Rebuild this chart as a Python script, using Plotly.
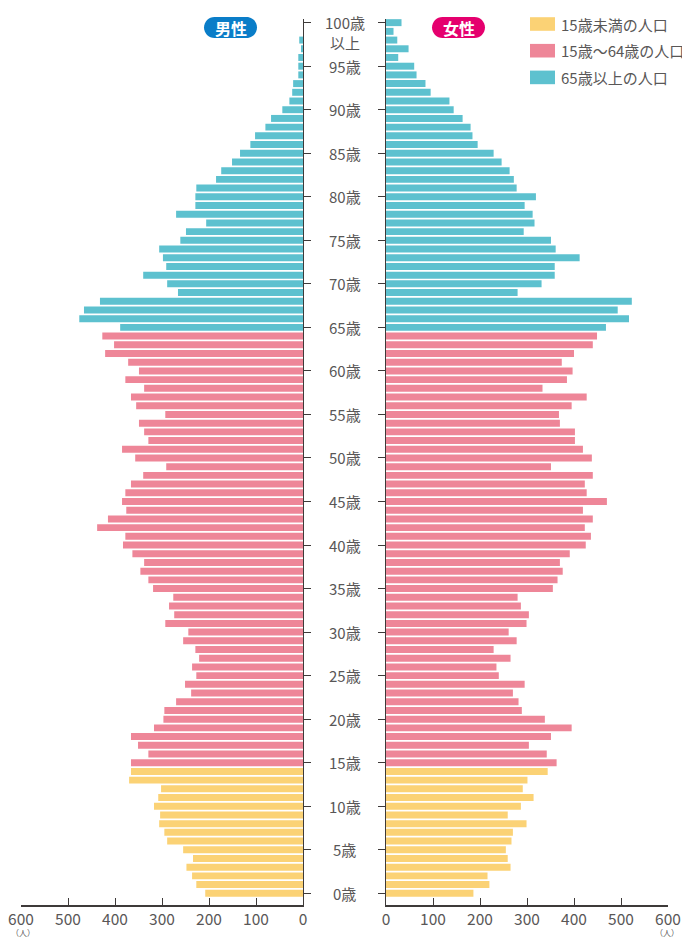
import plotly.graph_objects as go

# ---------------- data ----------------
ages = list(range(0, 101))
male = [208, 227, 236, 248, 234, 255, 289, 295, 306, 304,
        317, 308, 302, 370, 366, 366, 329, 351, 366, 317,
        297, 295, 270, 238, 251, 227, 236, 221, 229, 255,
        244, 293, 274, 285, 276, 319, 329, 346, 338, 363,
        383, 378, 438, 415, 376, 385, 378, 366, 340, 291,
        357, 385, 329, 338, 349, 293, 355, 366, 338, 378,
        349, 372, 421, 402, 427, 389, 476, 466, 432, 266,
        289, 340, 291, 298, 306, 261, 249, 206, 270, 229,
        229, 227, 185, 174, 151, 134, 112, 102, 80, 68,
        44, 29, 23, 21, 10, 10, 10, 4, 8, 0, 0]
female = [186, 220, 216, 265, 259, 255, 267, 270, 299, 259,
          287, 314, 291, 301, 344, 363, 342, 304, 351, 395,
          338, 289, 282, 270, 295, 240, 235, 265, 229, 278,
          261, 299, 304, 287, 280, 355, 365, 376, 370, 391,
          425, 436, 423, 440, 419, 470, 427, 423, 440, 351,
          438, 419, 402, 402, 370, 368, 395, 427, 333, 385,
          397, 374, 400, 440, 449, 468, 517, 493, 523, 280,
          331, 359, 359, 412, 361, 351, 293, 316, 312, 295,
          319, 278, 272, 263, 246, 229, 195, 184, 180, 163,
          144, 135, 95, 84, 65, 60, 26, 48, 24, 16, 33]
group_names = ["15歳未満の人口", "15歳～64歳の人口", "65歳以上の人口"]
group_ranges = [(0, 14), (15, 64), (65, 100)]
x_ticks = [0, 100, 200, 300, 400, 500, 600]
age_ticks = list(range(0, 101, 5))
age_labels = [f"{a}歳" for a in age_ticks]

# ---------------- style ----------------
colors = ["#FBD275", "#EE8698", "#5DC1CF"]
FONT = "Noto Sans CJK JP"
TXT = "#595757"
AX = "#3e3a39"
OFF = 8                      # default page (body) margin
W, H = 690 - OFF, 938 - OFF  # figure size so it fills the window
TOP_PX, BOT_PX = 19, 905     # plot area in window pixels
T = TOP_PX - OFF
B = H - (BOT_PX - OFF)
PH = H - T - B


def px(x):
    """window pixel x -> paper x"""
    return (x - OFF) / W


def py(y):
    """window pixel y -> paper y"""
    return (BOT_PX - y) / PH


def pill(x0, x1, y0, y1):
    r = (y1 - y0) / 2
    k = 0.5523 * r
    pts = []
    pts.append(f"M {px(x0 + r)},{py(y0)}")
    pts.append(f"L {px(x1 - r)},{py(y0)}")
    pts.append(f"C {px(x1 - r + k)},{py(y0)} {px(x1)},{py(y0 + r - k)} {px(x1)},{py(y0 + r)}")
    pts.append(f"C {px(x1)},{py(y0 + r + k)} {px(x1 - r + k)},{py(y1)} {px(x1 - r)},{py(y1)}")
    pts.append(f"L {px(x0 + r)},{py(y1)}")
    pts.append(f"C {px(x0 + r - k)},{py(y1)} {px(x0)},{py(y1 - r + k)} {px(x0)},{py(y1 - r)}")
    pts.append(f"C {px(x0)},{py(y1 - r - k)} {px(x0 + r - k)},{py(y0)} {px(x0 + r)},{py(y0)} Z")
    return " ".join(pts)


fig = go.Figure()
for gi, (lo, hi) in enumerate(group_ranges):
    ys = [a for a in ages if lo <= a <= hi]
    fig.add_trace(go.Bar(
        y=ys, x=[male[a] for a in ys], orientation="h",
        marker=dict(color=colors[gi], line=dict(width=0)),
        width=0.8, xaxis="x", yaxis="y", name=group_names[gi],
        showlegend=False, hoverinfo="x+y"))
    fig.add_trace(go.Bar(
        y=ys, x=[female[a] for a in ys], orientation="h",
        marker=dict(color=colors[gi], line=dict(width=0)),
        width=0.8, xaxis="x2", yaxis="y2", name=group_names[gi],
        showlegend=False, hoverinfo="x+y"))

yrange = [-1.344, 100.42]
common_x = dict(tickvals=x_ticks, ticks="inside", ticklen=7,
                tickcolor=AX, tickwidth=1.2, showline=True, linecolor=AX,
                linewidth=1.5, showgrid=False, zeroline=False, automargin=False,
                ticklabeloverflow="allow",
                tickfont=dict(family=FONT, size=15.5, color=TXT))
common_y = dict(range=yrange, tickvals=age_ticks, ticks="outside", ticklen=7,
                tickcolor=AX, tickwidth=1.2, showline=True, linecolor=AX,
                linewidth=1.2, showgrid=False, zeroline=False, automargin=False,
                showticklabels=False)

fig.update_layout(
    width=W, height=H,
    margin=dict(l=0, r=0, t=T, b=B, autoexpand=False),
    paper_bgcolor="white", plot_bgcolor="white",
    barmode="overlay",
    showlegend=False,
    xaxis=dict(common_x, domain=[px(21), px(303)], range=[600, 0], anchor="y"),
    yaxis=dict(common_y, anchor="x", side="right"),
    xaxis2=dict(common_x, domain=[px(386), px(668)], range=[0, 600], anchor="y2"),
    yaxis2=dict(common_y, anchor="x2", side="left", matches="y"),
)

annotations = []
for a, lab in zip(age_ticks, age_labels):
    annotations.append(dict(x=px(344.5), xref="paper", y=a, yref="y",
                            text=lab, showarrow=False, xanchor="center",
                            yanchor="middle",
                            font=dict(family=FONT, size=15, color=TXT)))
annotations.append(dict(x=px(344.5), xref="paper", y=100, yref="y",
                        text="以上", showarrow=False, xanchor="center",
                        yanchor="middle", yshift=-19.5,
                        font=dict(family=FONT, size=15, color=TXT)))
# unit labels
for xx in (px(23), px(667)):
    annotations.append(dict(x=xx, xref="paper", y=py(938.5), yref="paper",
                            text="（人）", showarrow=False, xanchor="center",
                            yanchor="bottom", borderpad=0,
                            font=dict(family=FONT, size=8, color=TXT)))

shapes = []
# badges
badges = [("男性", 204, 257, "#0A7DC8"), ("女性", 432, 485, "#E5006E")]
for txt, x0, x1, col in badges:
    shapes.append(dict(type="path", path=pill(x0, x1, 17, 38),
                       xref="paper", yref="paper", fillcolor=col,
                       line=dict(width=0), layer="above"))
    annotations.append(dict(x=px((x0 + x1) / 2), xref="paper",
                            y=py(27.5), yref="paper", text=f"<b>{txt}</b>",
                            showarrow=False, xanchor="center", yanchor="middle",
                            font=dict(family=FONT, size=16, color="white")))

# manual legend
for i, name in enumerate(group_names):
    yc = 24 + i * 26.7
    shapes.append(dict(type="rect", xref="paper", yref="paper",
                       x0=px(530), x1=px(555), y0=py(yc - 6.8), y1=py(yc + 6.8),
                       fillcolor=colors[i], line=dict(width=0)))
    annotations.append(dict(x=px(559), xref="paper", y=py(yc), yref="paper",
                            text=name, showarrow=False, xanchor="left",
                            yanchor="middle",
                            font=dict(family=FONT, size=15, color=TXT)))

fig.update_layout(annotations=annotations, shapes=shapes)
fig.write_html("out.html")
